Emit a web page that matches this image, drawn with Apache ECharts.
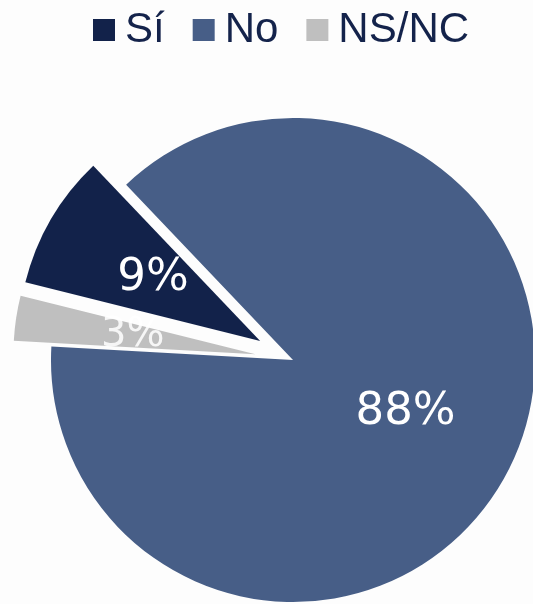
<!DOCTYPE html>
<html><head><meta charset="utf-8">
<script src="https://cdn.jsdelivr.net/npm/echarts@6/dist/echarts.min.js"></script>
<style>html,body{margin:0;padding:0;background:#fdfdfd}#c{width:533px;height:604px}</style>
</head><body><div id="c"></div>
<script>
const categories = ['Sí', 'No', 'NS/NC'];
const values = [9, 88, 3];
const colors = ['#12224a', '#475e87', '#bfbfbf'];
const exploded = [true, false, true];

const chart = echarts.init(document.getElementById('c'));
chart.setOption({
  backgroundColor: '#fdfdfd',
  animation: false,
  legend: {
    top: 4, left: 88,
    itemWidth: 22, itemHeight: 22, itemGap: 28,
    icon: 'rect',
    textStyle: { fontFamily: 'Liberation Sans', fontSize: 42, color: '#14234b', padding: [0, 0, 0, 5] },
    data: categories
  },
  series: [{
    type: 'pie',
    center: [293, 360],
    radius: [0, 242],
    startAngle: 166,
    clockwise: true,
    selectedMode: 'multiple',
    selectedOffset: 38,
    avoidLabelOverlap: false,
    label: {
      show: true, position: 'inside',
      formatter: p => p.value + '%',
      color: '#ffffff', fontFamily: 'DejaVu Sans', fontSize: 45
    },
    labelLine: { show: false },
    emphasis: { disabled: true },
    data: categories.map((c, i) => ({
      name: c, value: values[i], selected: exploded[i],
      itemStyle: { color: colors[i] },
      label: i === 2 ? { fontSize: 40, color: 'rgba(255,255,255,0.85)' } : {}
    }))
  }]
});
</script></body></html>
